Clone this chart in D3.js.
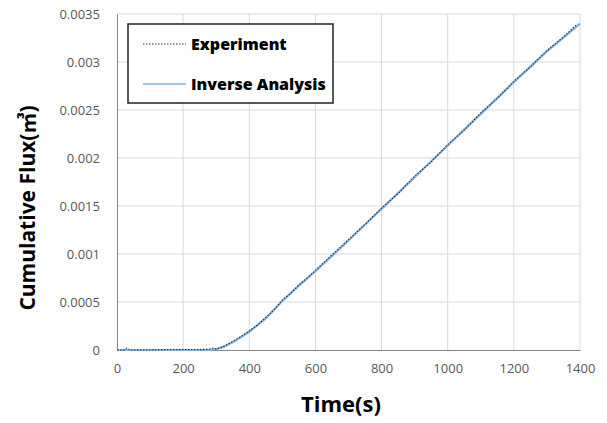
<!DOCTYPE html>
<html><head><meta charset="utf-8">
<script src="https://cdn.jsdelivr.net/npm/d3@7"></script>
<style>body{margin:0;background:#fff}svg{display:block}</style>
</head><body>
<svg id="c" width="607" height="423"></svg>
<script>
const xTicks = [0,200,400,600,800,1000,1200,1400];
const yTicks = [0,0.0005,0.001,0.0015,0.002,0.0025,0.003,0.0035];
const yTickLabels = ["0","0.0005","0.001","0.0015","0.002","0.0025","0.003","0.0035"];
const seriesNames = ["Experiment","Inverse Analysis"];
const invTime = [0,280,300,320,350,400,450,500,550,600,650,700,800,900,1000,1100,1200,1300,1400];
const invFlux = [0,0,0.00001,0.00003,0.00008,0.00019,0.00033,0.00051,0.00067,0.00082,0.00098,0.00114,0.00147,0.0018,0.00213,0.00246,0.00279,0.00311,0.0034];
const expTime = [0,20,30,40,100,150,200,250,280,290,300,310,330,350,375,400,425,450,475,500,525,550,575,600,650,700,750,800,850,900,950,1000,1050,1100,1150,1200,1250,1300,1350,1390];
const expFlux = [0,0,0.00002,0,0,0.000005,0.000005,0.000005,0.00001,0.00002,0.00001,0.00002,0.00005,0.00009,0.00014,0.0002,0.00026,0.00034,0.00042,0.00052,0.00059,0.00068,0.00075,0.00083,0.00099,0.00115,0.00131,0.00148,0.00163,0.00181,0.00196,0.00214,0.00229,0.00247,0.00262,0.0028,0.00295,0.00312,0.00326,0.00339];

const svg = d3.select("#c");
const L=117,R=580,T=14,B=350;
const x = d3.scaleLinear().domain([0,1400]).range([L,R]);
const y = d3.scaleLinear().domain([0,0.0035]).range([B,T]);
const font = "'Open Sans','Noto Sans',sans-serif";

// grid
svg.append("g").selectAll("line").data(xTicks.slice(1)).join("line")
  .attr("x1",d=>x(d)).attr("x2",d=>x(d)).attr("y1",T).attr("y2",B)
  .attr("stroke","#d9d9d9").attr("stroke-width",1);
svg.append("g").selectAll("line").data(yTicks.slice(1)).join("line")
  .attr("x1",L).attr("x2",R).attr("y1",d=>y(d)).attr("y2",d=>y(d))
  .attr("stroke","#d9d9d9").attr("stroke-width",1);

// axes
const xAxis = d3.axisBottom(x).tickValues(xTicks).tickSize(0).tickPadding(14).tickFormat(d3.format("d"));
const gx = svg.append("g").attr("transform",`translate(0,${B})`).call(xAxis);
gx.select(".domain").attr("stroke","#868686");
gx.selectAll("text").attr("font-family",font).attr("font-size",13).attr("fill","#595959");
const yAxis = d3.axisLeft(y).tickValues(yTicks).tickSize(0).tickPadding(17).tickFormat((d,i)=>yTickLabels[i]);
const gy = svg.append("g").attr("transform",`translate(${L},0)`).call(yAxis);
gy.select(".domain").attr("stroke","#868686");
gy.selectAll("text").attr("font-family",font).attr("font-size",13).attr("fill","#595959");

// lines
const invData = invTime.map((t,i)=>[t,invFlux[i]]);
const expData = expTime.map((t,i)=>[t,expFlux[i]]);
const line = d3.line().x(d=>x(d[0])).y(d=>y(d[1]));
svg.append("path").datum(invData).attr("d",line).attr("fill","none")
  .attr("stroke","#7fb2de").attr("stroke-width",2.2);
svg.append("path").datum(expData).attr("d",line).attr("fill","none")
  .attr("stroke","#2a3544").attr("stroke-width",1.1).attr("stroke-dasharray","1.5,1.5");

// axis titles
svg.append("text").attr("x",341).attr("y",412).attr("text-anchor","middle")
  .attr("font-family",font).attr("font-weight","bold").attr("font-size",22).attr("fill","#000").text("Time(s)");
const yt = svg.append("text").attr("transform","translate(35,208) rotate(-90)").attr("text-anchor","middle")
  .attr("font-family",font).attr("font-weight","bold").attr("font-size",21).attr("fill","#000");
yt.append("tspan").text("Cumulative Flux(");
yt.append("tspan").attr("font-family","'Noto Sans CJK KR',sans-serif").text("㎥");
yt.append("tspan").text(")");

// legend
const lg = svg.append("g");
lg.append("rect").attr("x",128).attr("y",24).attr("width",205).attr("height",79)
  .attr("fill","#fff").attr("stroke","#222").attr("stroke-width",1.5);
const ly = [44,84];
lg.append("line").attr("x1",143).attr("x2",186).attr("y1",ly[0]).attr("y2",ly[0])
  .attr("stroke","#2a3544").attr("stroke-width",1.1).attr("stroke-dasharray","1.5,1.5");
lg.append("line").attr("x1",143).attr("x2",186).attr("y1",ly[1]).attr("y2",ly[1])
  .attr("stroke","#7fb2de").attr("stroke-width",1.5);
lg.selectAll("text").data(seriesNames).join("text")
  .attr("x",191).attr("y",(d,i)=>ly[i]).attr("dy","0.35em")
  .attr("font-family",font).attr("font-weight","800").attr("font-size",16).attr("fill","#000").text(d=>d);
</script>
</body></html>
